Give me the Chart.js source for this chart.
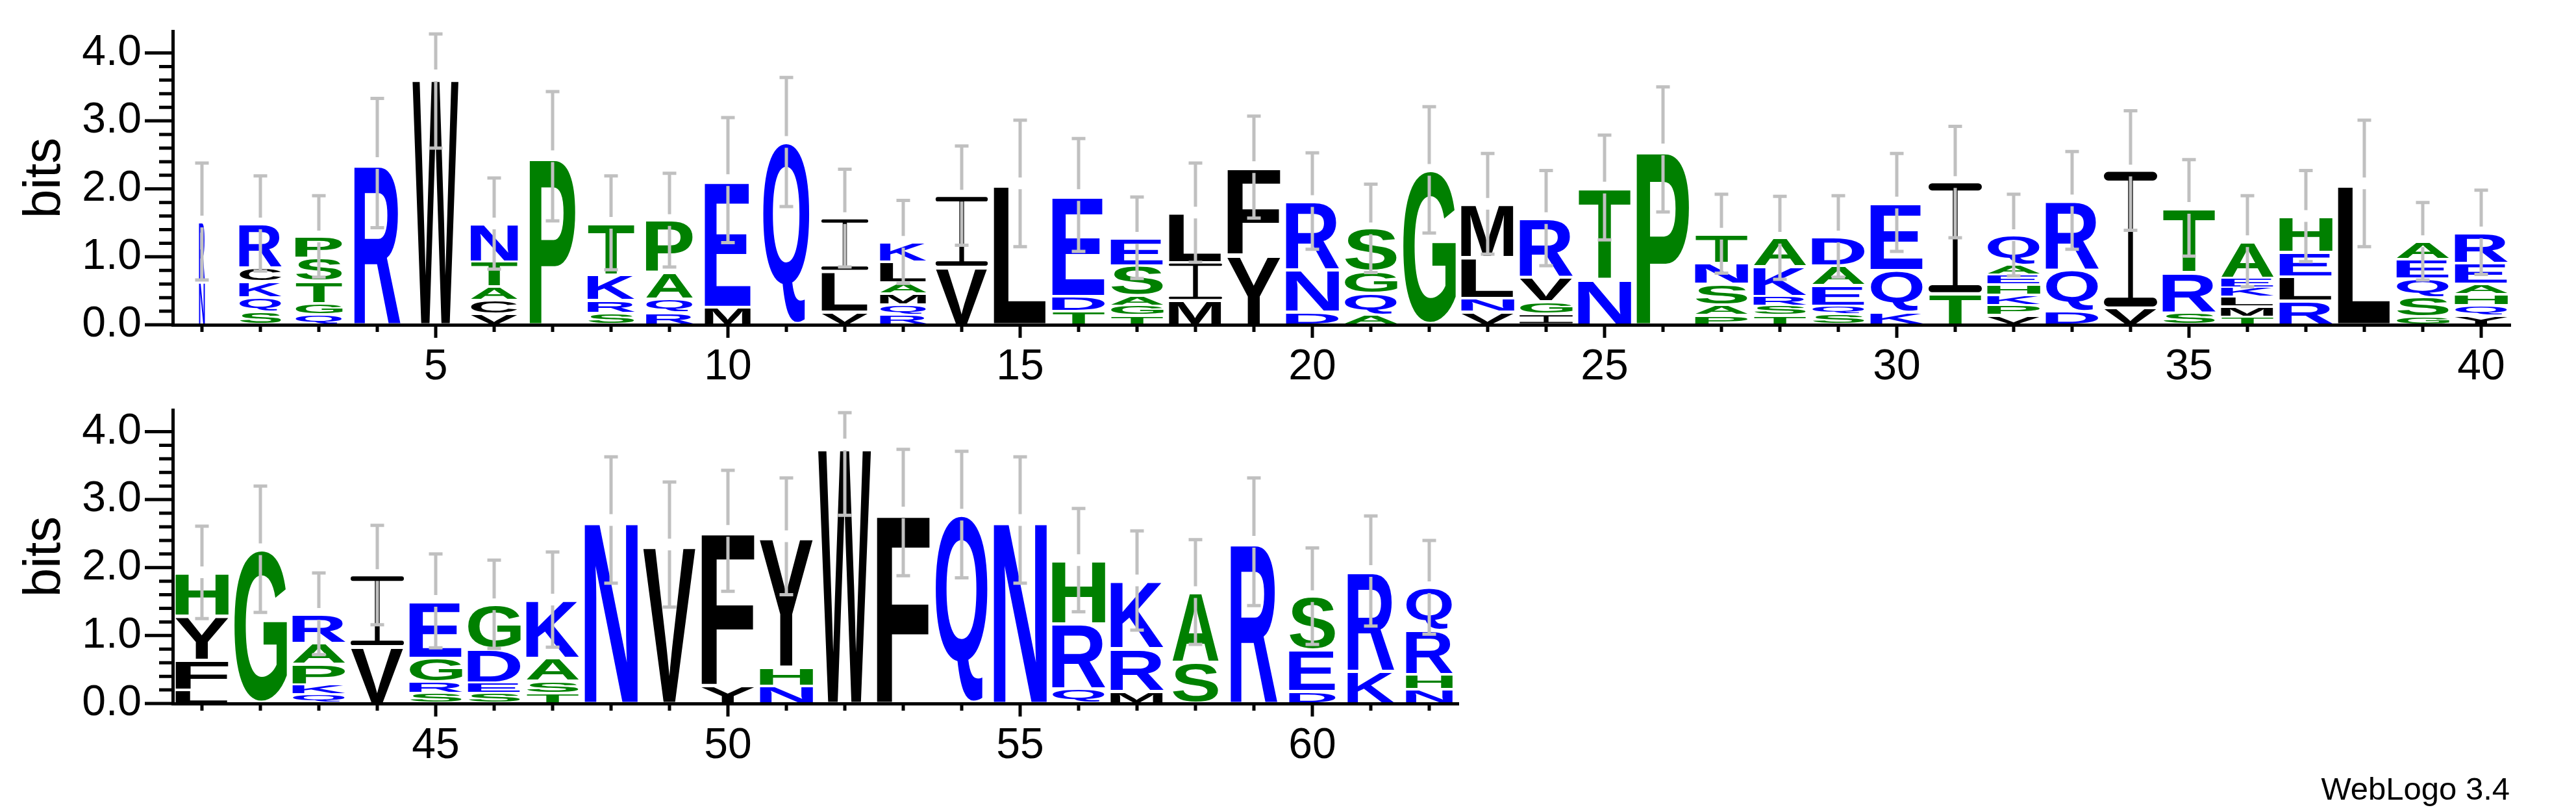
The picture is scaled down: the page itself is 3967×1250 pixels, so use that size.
<!DOCTYPE html>
<html>
<head>
<meta charset="utf-8">
<script src="https://cdn.jsdelivr.net/npm/chart.js@4.4.0/dist/chart.umd.min.js"></script>
<style>
  html, body { margin: 0; padding: 0; background: #fff; }
  body { width: 3967px; height: 1250px; position: relative; overflow: hidden; }
  canvas { position: absolute; left: 0; }
  #logo1 { top: 0; }
  #logo2 { top: 590px; }
  #credit { position: absolute; right: 102px; top: 1190px; font: 49px "Liberation Sans", Arial, sans-serif; line-height: 49px; color: #000; }
</style>
</head>
<body>
<canvas id="logo1" width="3967" height="620"></canvas>
<canvas id="logo2" width="3967" height="660"></canvas>
<div id="credit">WebLogo 3.4</div>
<script>
// positions, residues (bottom -> top), heights in bits, stack weight, error half-widths
const row1Positions = [1, 2, 3, 4, 5, 6, 7, 8, 9, 10, 11, 12, 13, 14, 15, 16, 17, 18, 19, 20,
  21, 22, 23, 24, 25, 26, 27, 28, 29, 30, 31, 32, 33, 34, 35, 36, 37, 38, 39, 40];
const row1Letters = ['NR', 'SQKCR', 'QGTSP', 'R', 'W', 'VCATN', 'P', 'SRKT', 'RQAP', 'ME',
  'Q', 'VLI', 'RQMALK', 'VI', 'L', 'TDE', 'TGASE', 'MIL', 'YF', 'DNR',
  'AQGS', 'G', 'VNLM', 'IGVR', 'NT', 'P', 'PASNT', 'TSRKA', 'SQEAD', 'KQE',
  'TI', 'VPKHEAQ', 'DQR', 'VI', 'SRT', 'TMLKEA', 'RLEH', 'L', 'GSQEA', 'YQHAER'];
const row1Heights = [
  [0.64, 0.88], [0.19, 0.21, 0.24, 0.20, 0.65], [0.15, 0.17, 0.32, 0.34, 0.32], [2.38], [3.67],
  [0.16, 0.20, 0.20, 0.37, 0.56], [2.48], [0.17, 0.19, 0.38, 0.76], [0.18, 0.20, 0.39, 0.77], [0.26, 1.87],
  [2.69], [0.19, 0.60, 0.78], [0.15, 0.15, 0.16, 0.16, 0.31, 0.29], [0.85, 1.05], [2.08],
  [0.20, 0.22, 1.49], [0.14, 0.14, 0.15, 0.44, 0.41], [0.36, 0.56, 0.73], [1.03, 1.29], [0.19, 0.62, 1.01],
  [0.15, 0.31, 0.33, 0.63], [2.28], [0.19, 0.20, 0.60, 0.79], [0.16, 0.18, 0.36, 0.87], [0.67, 1.35],
  [2.58], [0.14, 0.15, 0.31, 0.31, 0.43], [0.14, 0.14, 0.14, 0.44, 0.42], [0.15, 0.13, 0.30, 0.29, 0.43], [0.19, 0.61, 1.00],
  [0.46, 1.64], [0.14, 0.15, 0.15, 0.15, 0.15, 0.15, 0.43], [0.20, 0.61, 1.02], [0.25, 2.02], [0.18, 0.59, 0.95],
  [0.12, 0.15, 0.14, 0.14, 0.14, 0.54], [0.35, 0.36, 0.36, 0.53], [2.08], [0.12, 0.29, 0.27, 0.29, 0.26], [0.14, 0.15, 0.16, 0.15, 0.31, 0.45]
];
const row1Weights = [0.11, 0.80, 0.89, 0.87, 0.87, 0.89, 0.87, 0.89, 0.89, 0.88,
  0.89, 0.88, 0.88, 0.98, 1, 1, 1, 1, 1, 1,
  1, 1, 1, 1, 1, 1, 1, 1, 1, 1,
  1, 1, 1, 1, 1, 1, 1, 1, 1, 1];
const row1Errors = [0.86, 0.70, 0.60, 0.95, 1.07, 0.67, 0.95, 0.69, 0.69, 0.92,
  0.95, 0.72, 0.61, 0.73, 0.93, 0.83, 0.60, 0.73, 0.75, 0.71,
  0.65, 0.93, 0.74, 0.70, 0.77, 0.92, 0.58, 0.61, 0.60, 0.72,
  0.82, 0.60, 0.72, 0.88, 0.71, 0.67, 0.67, 0.93, 0.57, 0.62];

const row2Positions = [41, 42, 43, 44, 45, 46, 47, 48, 49, 50, 51,
  52, 53, 54, 55, 56, 57, 58, 59, 60, 61, 62];
const row2Letters = ['LFYH', 'G', 'QKPAR', 'VI', 'SRGE', 'SEDG', 'TSAK', 'N', 'V', 'YF', 'NHY',
  'W', 'F', 'Q', 'N', 'QRH', 'MRK', 'SA', 'R', 'DES', 'KR', 'NHRQ'];
const row2Heights = [
  [0.20, 0.44, 0.65, 0.64], [2.27], [0.14, 0.14, 0.30, 0.31, 0.43], [0.84, 1.05], [0.15, 0.17, 0.35, 0.84],
  [0.15, 0.16, 0.50, 0.65], [0.15, 0.18, 0.34, 0.86], [2.70], [2.34], [0.27, 2.27], [0.26, 0.28, 1.92],
  [3.81], [2.81], [2.78], [2.70], [0.22, 0.96, 0.93], [0.18, 0.63, 1.00], [0.61, 1.03], [2.38],
  [0.18, 0.61, 0.79], [0.48, 1.47], [0.21, 0.22, 0.65, 0.63]
];
const row2Weights = [1, 1, 1, 1, 1, 1, 1, 1, 1, 1, 1,
  1, 1, 1, 1, 1, 1, 0.88, 0.88, 0.88, 0.88, 0.88];
const row2Errors = [0.68, 0.93, 0.60, 0.73, 0.69, 0.65, 0.70, 0.93, 0.92, 0.89, 0.86,
  1.04, 0.93, 0.93, 0.93, 0.76, 0.73, 0.77, 0.94, 0.71, 0.81, 0.69];

const bitTicks = [0, 1, 2, 3, 4];
const yMax = 4.32;

const residueColors = {};
'RKDENQ'.split('').forEach(c => residueColors[c] = '#0000ff');
'SGHTAP'.split('').forEach(c => residueColors[c] = '#008000');
'YCLIVMFW'.split('').forEach(c => residueColors[c] = '#000000');

const tickFont = { family: "'Liberation Sans Narrow', 'Liberation Sans', Arial, sans-serif", size: 66 };

// glyph outlines are measured once, then stretched into each box
const glyphCache = {};
function glyphBox(ch) {
  const font = 'bold 400px "Liberation Sans", Arial, sans-serif';
  const c = document.createElement('canvas').getContext('2d');
  c.font = font;
  const m = c.measureText(ch);
  return {
    font,
    left: m.actualBoundingBoxLeft,
    right: m.actualBoundingBoxRight,
    ascent: m.actualBoundingBoxAscent,
    descent: m.actualBoundingBoxDescent
  };
}

// WebLogo's I has full width bars and a thin stem
function drawSerifI(ctx, x, top, w, h) {
  const t = Math.max(2, h * 0.065);
  const s = Math.max(1.5, w * 0.09);
  ctx.fillStyle = residueColors.I;
  ctx.beginPath();
  ctx.roundRect(x, top, w, t, t / 2);
  ctx.roundRect(x, top + h - t, w, t, t / 2);
  ctx.rect(x + (w - s) / 2, top, s, h);
  ctx.fill();
}

function drawGlyph(ctx, ch, x, top, w, h) {
  const pad = Math.min(2, h * 0.12);
  if (ch === 'I') {
    drawSerifI(ctx, x, top + pad, w, h - 2 * pad);
    return;
  }
  const g = glyphCache[ch] || (glyphCache[ch] = glyphBox(ch));
  const gw = g.left + g.right;
  const gh = g.ascent + g.descent;
  ctx.save();
  ctx.translate(x, top + pad);
  ctx.scale(w / gw, (h - 2 * pad) / gh);
  ctx.font = g.font;
  ctx.fillStyle = residueColors[ch];
  ctx.textAlign = 'left';
  ctx.textBaseline = 'alphabetic';
  ctx.fillText(ch, g.left, g.ascent);
  ctx.restore();
}

const logoPlugin = {
  id: 'logo',
  afterDatasetsDraw(chart, args, opts) {
    const ctx = chart.ctx;
    const xs = chart.scales.x;
    const ys = chart.scales.y;

    chart.data.datasets.forEach((ds, di) => {
      chart.getDatasetMeta(di).data.forEach((bar, i) => {
        const ch = ds.glyphs[i];
        if (!ch || !ds.data[i]) return;
        const p = bar.getProps(['x', 'y', 'base', 'width'], true);
        const w = p.width * opts.weights[i];
        drawGlyph(ctx, ch, p.x - w / 2, p.y, w, p.base - p.y);
      });
    });

    // error bars, split where they cross the top of the stack
    ctx.save();
    ctx.strokeStyle = '#c0c0c0';
    ctx.lineWidth = 5;
    opts.heights.forEach((h, i) => {
      const total = h.reduce((a, b) => a + b, 0);
      const cx = xs.getPixelForValue(i);
      const yc = ys.getPixelForValue(total);
      const yHi = ys.getPixelForValue(Math.min(total + opts.errors[i], yMax - 0.04));
      const yLo = ys.getPixelForValue(Math.max(total - opts.errors[i], 0));
      ctx.beginPath();
      ctx.moveTo(cx, yHi); ctx.lineTo(cx, yc - 9);
      ctx.moveTo(cx, yc + 9); ctx.lineTo(cx, yLo);
      ctx.moveTo(cx - 10.5, yHi); ctx.lineTo(cx + 10.5, yHi);
      ctx.moveTo(cx - 10.5, yLo); ctx.lineTo(cx + 10.5, yLo);
      ctx.stroke();
    });
    ctx.restore();
  },
  afterDraw(chart, args, opts) {
    const ctx = chart.ctx;
    const xs = chart.scales.x;
    const ys = chart.scales.y;
    const area = chart.chartArea;
    ctx.save();
    ctx.strokeStyle = '#000';
    ctx.lineWidth = 5;
    ctx.beginPath();
    // y ticks every 0.2 bit, long ones on whole bits
    for (let k = 0; k <= bitTicks[bitTicks.length - 1] * 5; k++) {
      const py = ys.getPixelForValue(k / 5);
      const len = k % 5 === 0 ? 43 : 21;
      ctx.moveTo(area.left - len, py);
      ctx.lineTo(area.left, py);
    }
    chart.data.labels.forEach((lab, i) => {
      const px = xs.getPixelForValue(i);
      const len = lab % 5 === 0 ? 20 : 11;
      ctx.moveTo(px, area.bottom);
      ctx.lineTo(px, area.bottom + len);
    });
    ctx.stroke();
    ctx.restore();
  }
};

function buildDatasets(letters, heights) {
  const depth = Math.max(...letters.map(s => s.length));
  const sets = [];
  for (let k = 0; k < depth; k++) {
    sets.push({
      data: heights.map(h => h[k] || 0),
      glyphs: letters.map(s => s[k] || ''),
      backgroundColor: 'rgba(0,0,0,0)',
      borderWidth: 0,
      barPercentage: 82 / 90,
      categoryPercentage: 1
    });
  }
  return sets;
}

function makeLogo(id, positions, letters, heights, weights, errors, pad, xAxisHeight) {
  return new Chart(document.getElementById(id), {
    type: 'bar',
    data: { labels: positions, datasets: buildDatasets(letters, heights) },
    options: {
      responsive: false,
      animation: false,
      events: [],
      layout: { padding: pad },
      plugins: {
        legend: { display: false },
        tooltip: { enabled: false },
        logo: { heights, weights, errors }
      },
      scales: {
        x: {
          stacked: true,
          grid: { drawOnChartArea: false, drawTicks: false },
          border: { display: true, color: '#000', width: 5 },
          ticks: {
            autoSkip: false,
            maxRotation: 0,
            padding: 26,
            color: '#000',
            font: tickFont,
            callback: (v, i) => positions[i] % 5 === 0 ? String(positions[i]) : ''
          },
          afterFit: s => { s.height = xAxisHeight; s.paddingLeft = 0; s.paddingRight = 0; }
        },
        y: {
          stacked: true,
          min: 0,
          max: yMax,
          grid: { drawOnChartArea: false, drawTicks: false },
          border: { display: true, color: '#000', width: 5 },
          ticks: {
            padding: 48,
            color: '#000',
            font: tickFont,
            callback: v => Number(v).toFixed(1)
          },
          title: {
            display: true,
            text: 'bits',
            color: '#000',
            font: { family: "'Liberation Sans', Arial, sans-serif", size: 80 },
            padding: { top: 22, bottom: 0 }
          },
          afterBuildTicks: s => { s.ticks = bitTicks.map(v => ({ value: v })); },
          afterFit: s => { s.width = 266; s.paddingTop = 0; s.paddingBottom = 0; }
        }
      }
    },
    plugins: [logoPlugin]
  });
}

makeLogo('logo1', row1Positions, row1Letters, row1Heights, row1Weights, row1Errors,
  { left: 0, right: 101, top: 48, bottom: 0 }, 120);
makeLogo('logo2', row2Positions, row2Letters, row2Heights, row2Weights, row2Errors,
  { left: 0, right: 1721, top: 41, bottom: 0 }, 167);
</script>
</body>
</html>
